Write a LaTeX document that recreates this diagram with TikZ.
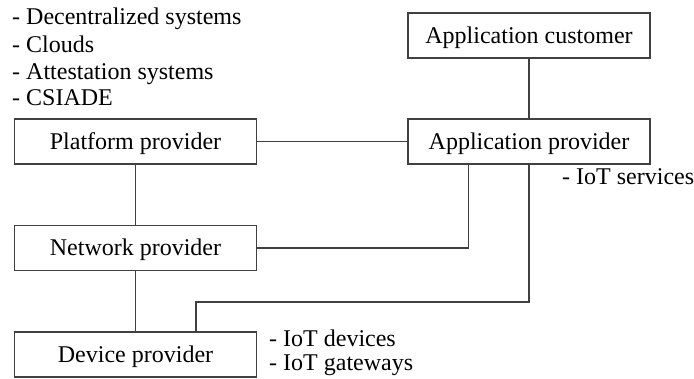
\documentclass[tikz,border=0pt]{standalone}
\usepackage{fontspec}
\setmainfont{Liberation Serif}
\usetikzlibrary{calc}
\begin{document}
\begin{tikzpicture}[x=1pt,y=-1pt,
  role/.style={draw=black!75, line width=1.3pt, fill=white,
    minimum width=242pt, minimum height=45pt, inner sep=0pt,
    font=\fontsize{24}{27}\selectfont, text height=15.8pt, text depth=0pt},
  link/.style={draw=black!75, line width=1.3pt},
  note/.style={anchor=base west, inner sep=0pt,
    font=\fontsize{24}{27}\selectfont}]
\useasboundingbox[fill=white] (0,0) rectangle (694,379);

% actors
\node[role] (cust) at (529,35.5)  {Application customer};
\node[role] (app)  at (529,141.5) {Application provider};
\node[role] (plat) at (135.5,141.5) {Platform provider};
\node[role] (net)  at (135.5,248) {Network provider};
\node[role] (dev)  at (135.5,354.5) {Device provider};

% annotations
\node[note] (pn1) at (12,25)  {- Decentralized systems};
\node[note] (pn2) at (12,52.5)  {- Clouds};
\node[note] (pn3) at (12,79.5)  {- Attestation systems};
\node[note] (pn4) at (12,106) {- CSIADE};
\node[note] (an1) at (562,185) {- IoT services};
\node[note] (dn1) at (269,346.5) {- IoT devices};
\node[note] (dn2) at (269,371) {- IoT gateways};

% relations
\coordinate (netup) at ($(app.south west)+(61,0)$);
\coordinate (devup) at ($(dev.north west)+(182,0)$);
\coordinate (devbend) at (300,302);

\draw[link] (cust.south) -- (app.north);
\draw[link] (plat.east) -- (app.west);
\draw[link] (plat.south) -- (net.north);
\draw[link] (net.south) -- (dev.north);
\draw[link] (net.east) -| (netup);
\draw[link] (devup) |- (devbend) -| (app.south);
\end{tikzpicture}
\end{document}
